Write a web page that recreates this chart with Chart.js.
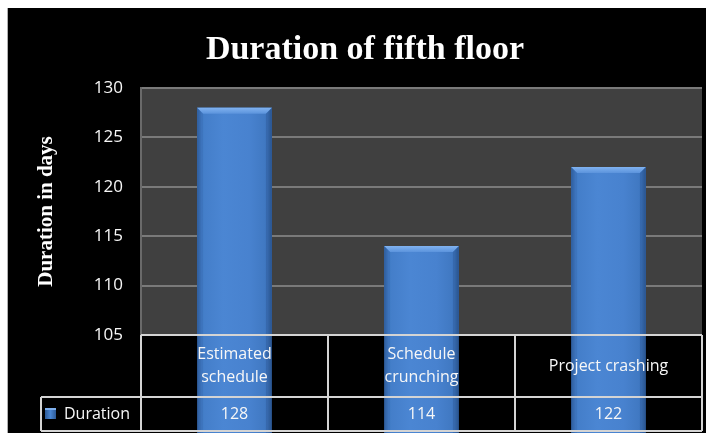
<!DOCTYPE html>
<html>
<head>
<meta charset="utf-8">
<script src="https://cdn.jsdelivr.net/npm/chart.js@4/dist/chart.umd.min.js"></script>
<style>
  html, body { margin: 0; padding: 0; background: #ffffff; }
  #wrap { width: 706px; height: 433px; }
</style>
</head>
<body>
<div id="wrap"><canvas id="c" width="706" height="433"></canvas></div>
<script>
// ---- data ----
const chartTitle = "Duration of fifth floor";
const yAxisTitle = "Duration in days";
const categories = ["Estimated schedule", "Schedule crunching", "Project crashing"];
const categoryLines = [["Estimated", "schedule"], ["Schedule", "crunching"], ["Project crashing"]];
const seriesName = "Duration";
const durations = [128, 114, 122];
const yMin = 105;
const yMax = 130;
const yStep = 5;

const TEXT = "#f7f7f7";
const TABLE_LINE = "#d4d4d4";
const TABLE_FONT = "16px 'Open Sans', sans-serif";

function barGradient(ctx, left, right) {
  const g = ctx.createLinearGradient(left, 0, right, 0);
  g.addColorStop(0, "#30609f");
  g.addColorStop(0.06, "#437dc8");
  g.addColorStop(0.35, "#4b86d3");
  g.addColorStop(0.7, "#4882cf");
  g.addColorStop(0.94, "#3f77c0");
  g.addColorStop(1, "#2f5d9a");
  return g;
}

const bgPlugin = {
  id: "bg",
  beforeDraw(chart) {
    const ctx = chart.ctx;
    const a = chart.chartArea;
    ctx.save();
    ctx.fillStyle = "#ffffff";
    ctx.fillRect(0, 0, chart.width, chart.height);
    ctx.fillStyle = "#000000";
    ctx.fillRect(8, 8, chart.width - 8, chart.height - 8);
    ctx.fillStyle = "#b0b0b0";
    ctx.fillRect(7, 8, 1, chart.height - 8);
    ctx.fillStyle = "#404040";
    ctx.fillRect(a.left, a.top, a.right - a.left, a.bottom - a.top);
    ctx.restore();
  }
};

const barPlugin = {
  id: "barStyle",
  afterDatasetsDraw(chart) {
    const ctx = chart.ctx;
    const meta = chart.getDatasetMeta(0);
    ctx.save();
    meta.data.forEach((el) => {
      const p = el.getProps(["x", "y", "base", "width"], true);
      const left = p.x - p.width / 2, right = p.x + p.width / 2;
      const top = p.y, bottom = p.base;
      ctx.fillStyle = barGradient(ctx, left, right);
      ctx.fillRect(left, top, right - left, bottom - top);
      const b = 6;
      // top bevel
      const tg = ctx.createLinearGradient(0, top, 0, top + b);
      tg.addColorStop(0, "#80b2f0");
      tg.addColorStop(1, "#5b93dc");
      ctx.fillStyle = tg;
      ctx.beginPath();
      ctx.moveTo(left, top); ctx.lineTo(right, top);
      ctx.lineTo(right - b, top + b); ctx.lineTo(left + b, top + b);
      ctx.closePath(); ctx.fill();
      // left bevel
      ctx.fillStyle = "rgba(40,80,140,0.18)";
      ctx.beginPath();
      ctx.moveTo(left, top); ctx.lineTo(left + b, top + b);
      ctx.lineTo(left + b, bottom - 2); ctx.lineTo(left, bottom);
      ctx.closePath(); ctx.fill();
      // right bevel
      ctx.fillStyle = "rgba(25,55,105,0.22)";
      ctx.beginPath();
      ctx.moveTo(right, top); ctx.lineTo(right - b, top + b);
      ctx.lineTo(right - b, bottom - 2); ctx.lineTo(right, bottom);
      ctx.closePath(); ctx.fill();
      // bottom shade
      ctx.fillStyle = "rgba(30,60,110,0.35)";
      ctx.fillRect(left, bottom - 2, right - left, 2);
    });
    ctx.restore();
  }
};

const tablePlugin = {
  id: "dataTable",
  afterDraw(chart) {
    const ctx = chart.ctx;
    const a = chart.chartArea;
    const xs = chart.scales.x;
    const n = categories.length;
    const step = (a.right - a.left) / n;
    const yTop = a.bottom;
    const yMid = yTop + 62;
    const yBot = 431;
    const legendLeft = 41;
    ctx.save();
    // title
    ctx.fillStyle = "#ffffff";
    ctx.font = "bold 34px 'Liberation Serif', 'Times New Roman', serif";
    ctx.textAlign = "center";
    ctx.textBaseline = "alphabetic";
    ctx.fillText(chartTitle, 365, 59);

    // table lines
    ctx.strokeStyle = TABLE_LINE;
    ctx.lineWidth = 2;
    ctx.beginPath();
    ctx.moveTo(a.left, yTop); ctx.lineTo(a.right, yTop);
    ctx.moveTo(legendLeft, yMid); ctx.lineTo(a.right, yMid);
    ctx.moveTo(legendLeft, yBot); ctx.lineTo(a.right, yBot);
    ctx.moveTo(legendLeft, yMid); ctx.lineTo(legendLeft, yBot);
    for (let i = 0; i <= n; i++) {
      const x = Math.round(xs.getPixelForValue(i) - step / 2);
      ctx.moveTo(x, yTop); ctx.lineTo(x, yBot);
    }
    ctx.stroke();

    // header texts
    ctx.fillStyle = TEXT;
    ctx.font = TABLE_FONT;
    ctx.textAlign = "center";
    ctx.textBaseline = "middle";
    const lh = 23;
    categoryLines.forEach((lines, i) => {
      const x = xs.getPixelForValue(i);
      const cy = (yTop + yMid) / 2;
      const start = cy - (lines.length - 1) * lh / 2;
      lines.forEach((t, j) => ctx.fillText(t, x, start + j * lh));
    });
    // values row
    const vy = (yMid + yBot) / 2;
    durations.forEach((v, i) => {
      ctx.fillText(String(v), xs.getPixelForValue(i), vy);
    });
    // legend key + series name
    const kx = 45, ky = vy - 6, ks = 11;
    const kg = ctx.createLinearGradient(kx, 0, kx + ks, 0);
    kg.addColorStop(0, "#2c5a97"); kg.addColorStop(0.5, "#4a86d2"); kg.addColorStop(1, "#2c5a97");
    ctx.fillStyle = kg;
    ctx.fillRect(kx, ky, ks, ks);
    ctx.fillStyle = "#7fb0ee";
    ctx.fillRect(kx, ky, ks, 2);
    ctx.fillStyle = TEXT;
    ctx.textAlign = "left";
    ctx.fillText(seriesName, 64, vy);
    ctx.restore();
  }
};

new Chart(document.getElementById("c"), {
  type: "bar",
  data: {
    labels: categories,
    datasets: [{
      label: seriesName,
      data: durations,
      backgroundColor: "#4a86d2",
      borderWidth: 0,
      categoryPercentage: 1.0,
      barPercentage: 0.4
    }]
  },
  options: {
    responsive: false,
    animation: false,
    devicePixelRatio: 1,
    layout: { padding: { left: 0, top: 88, right: 4, bottom: 98 } },
    plugins: {
      legend: { display: false },
      title: { display: false },
      tooltip: { enabled: false }
    },
    scales: {
      x: {
        display: true,
        ticks: { display: false },
        grid: { display: false, drawTicks: false },
        border: { display: false }
      },
      y: {
        min: yMin,
        max: yMax,
        ticks: {
          stepSize: yStep,
          color: TEXT,
          padding: 18,
          font: { family: "'Open Sans', sans-serif", size: 17 }
        },
        grid: { color: "#7a7a7a", lineWidth: 2, drawTicks: false },
        border: { display: true, color: "#6a6a6a", width: 2 },
        title: {
          display: true,
          text: yAxisTitle,
          color: "#ffffff",
          padding: { top: 34, bottom: 0 },
          font: { family: "'Liberation Serif', 'Times New Roman', serif", size: 21, weight: "bold" }
        },
        afterFit(scale) { scale.width = 141; }
      }
    }
  },
  plugins: [bgPlugin, barPlugin, tablePlugin]
});
</script>
</body>
</html>
